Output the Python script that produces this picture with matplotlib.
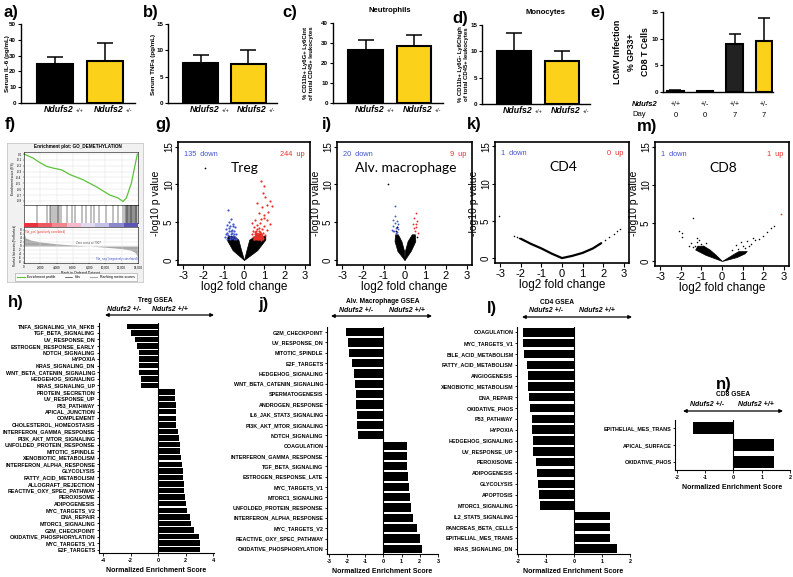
import matplotlib
matplotlib.use("Agg")
import matplotlib.pyplot as plt
from matplotlib.colors import ListedColormap
from matplotlib.lines import Line2D

plt.rcParams['font.family'] = ['Liberation Sans', 'DejaVu Sans']
plt.rcParams['axes.unicode_minus'] = False

W, H = 793, 577
GOLD = '#fbd219'
BLUE = '#3f55c8'
RED = '#e8302a'

# ---- top row: serum cytokines, blood cells, LCMV
il6_mean = [24.8, 26.4]
il6_err = [4.5, 11.8]
tnf_mean = [7.6, 7.4]
tnf_err = [1.6, 2.7]
neut_mean = [26.6, 28.3]
neut_err = [5.0, 5.8]
mono_mean = [10.1, 8.1]
mono_err = [3.3, 2.0]
lcmv_geno = ['+/+', '+/-', '+/+', '+/-']
lcmv_day = ['0', '0', '7', '7']
lcmv_mean = [0.2, 0.15, 9.0, 9.5]
lcmv_err = [0.12, 0.06, 1.8, 4.4]

# ---- GSEA enrichment plot (panel f)
es_rank = [0, 1140, 1750, 2780, 3590, 4610, 5630, 7270, 8900, 10530, 11550, 12160,
           12570, 13180, 13590, 13920]
es_score = [0.0, -0.07, -0.13, -0.21, -0.24, -0.27, -0.35, -0.44, -0.56, -0.70, -0.75,
            -0.81, -0.75, -0.50, -0.22, 0.0]
hit_ranks = [1560, 2860, 3240, 3370, 3580, 3790, 4000, 4210, 4340, 4550, 5260, 5900,
             6320, 7160, 7580, 8210, 8630, 9260, 10100, 10950, 11580, 12200, 12350,
             12500, 12600, 12700, 12800, 12900, 13000, 13100, 13200, 13300, 13400,
             13500, 13600, 13700, 13800, 13900]
metric_rank = [0, 200, 800, 2000, 4000, 6000, 7907, 10000, 12000, 13000, 13600, 13900, 14000]
metric_val = [6.5, 4.0, 3.0, 2.0, 1.1, 0.5, 0.0, -0.6, -1.3, -2.0, -3.0, -5.0, -8.0]
rank_bands = ['#e8323c', '#ee5a62', '#f2888d', '#f7b8cc', '#e0d8ee', '#c4c0e6',
              '#8c88cc', '#5a56b8']

# ---- volcano plots: dense core (band limits) + scattered genes
treg_core_y = [0, 1.3, 2.7, 3.2]
treg_left_out = [0, -0.56, -0.85, -0.8]
treg_left_in = [0, -0.14, -0.28, -0.5]
treg_right_in = [0, 0.12, 0.26, 0.55]
treg_right_out = [0, 0.65, 1.05, 1.05]
treg_up_core_y = [2.7, 3.1, 3.6]
treg_up_core_left = [0.45, 0.5, 0.6]
treg_up_core_right = [0.95, 0.92, 0.85]
treg_down_fc = [-0.80, -0.62, -0.75, -0.55, -0.85, -0.68, -0.45, -0.9, -0.6, -0.75, -0.5,
                -0.85, -0.65, -0.4, -0.78, -0.55, -0.92, -0.7, -0.45, -0.6, -0.82, -0.5,
                -0.38, -0.72, -0.58, -0.48, -0.88, -0.66, -0.52, -0.7]
treg_down_p = [6.6, 5.4, 5.0, 4.8, 4.6, 4.5, 4.3, 4.1, 4.0, 3.9, 3.8, 3.6, 3.5, 3.4, 3.3,
               3.2, 3.1, 3.0, 3.0, 2.9, 2.8, 2.75, 2.8, 4.2, 3.6, 3.5, 3.4, 3.8, 4.5, 2.75]
treg_up_fc = [0.82, 1.0, 0.92, 1.05, 1.3, 1.38, 1.12, 0.65, 0.88, 1.2, 0.73, 1.0, 0.97,
              0.56, 1.13, 0.85, 0.4, 0.8, 1.3, 0.62, 1.0, 0.5, 0.72, 0.9, 1.15, 0.45, 0.6,
              0.8, 0.95, 0.38, 0.55, 0.7, 0.88, 1.05, 0.45, 0.62, 0.78, 0.95, 0.5, 0.68,
              0.85, 0.58, 0.75, 0.65, 0.52, 0.83]
treg_up_p = [10.4, 9.8, 8.9, 8.3, 7.8, 7.1, 7.3, 7.5, 7.0, 6.4, 6.2, 6.0, 5.6, 5.3, 5.3,
             5.4, 4.9, 4.9, 4.7, 4.6, 4.5, 4.3, 4.2, 4.1, 4.0, 3.9, 3.8, 3.7, 3.6, 3.5,
             3.4, 3.3, 3.2, 3.3, 3.1, 3.0, 2.95, 2.9, 2.8, 2.75, 2.7, 3.55, 3.9, 4.05,
             3.65, 3.45]
treg_other_fc = [-1.94]
treg_other_p = [12.1]

mac_core_y = [0, 1.2, 2.5, 3.4]
mac_left_out = [0, -0.34, -0.48, -0.45]
mac_left_in = [0, -0.02, -0.15, -0.32]
mac_right_in = [0, 0.02, 0.15, 0.35]
mac_right_out = [0, 0.3, 0.52, 0.5]
mac_down_fc = [-0.45, -0.53, -0.34, -0.56, -0.4, -0.29, -0.5, -0.34, -0.61, -0.45,
               -0.38, -0.48, -0.42, -0.55, -0.31]
mac_down_p = [7.1, 5.3, 5.1, 4.5, 4.2, 4.7, 3.8, 3.7, 4.0, 5.8, 4.4, 4.9, 3.6, 3.9, 4.1]
mac_up_fc = [0.56, 0.47, 0.6, 0.4, 0.56, 0.5, 0.63, 0.44, 0.53]
mac_up_p = [6.2, 5.5, 5.1, 4.7, 4.3, 3.8, 3.6, 4.2, 4.8]
mac_other_fc = [-0.8, -0.42, -0.36, 0.58]
mac_other_p = [10.1, 3.9, 4.3, 3.1]

cd4_band_fc = [-2.0, -1.5, -1.0, -0.5, 0, 0.5, 1.0, 1.5, 1.9]
cd4_band_p = [2.6, 1.9, 1.3, 0.6, 0, 0.3, 0.7, 1.3, 2.0]
cd4_other_fc = [-3.05, -2.35, -2.2, -2.1, 2.1, 2.3, 2.5, 2.65, 2.8]
cd4_other_p = [5.6, 3.0, 2.85, 2.7, 2.4, 2.8, 3.2, 3.6, 3.9]

cd8_core_y = [0, 0.8, 1.5, 2.0]
cd8_left_out = [0, -0.8, -1.3, -1.2]
cd8_left_in = [0, -0.3, -0.6, -0.9]
cd8_right_core_y = [0, 0.5, 1.0, 1.3]
cd8_right_in = [0, 0.3, 0.6, 0.8]
cd8_right_out = [0, 0.7, 1.1, 1.2]
cd8_other_fc = [-1.2, -1.0, -1.3, -0.9, -1.1, -0.8, -1.4, -1.5, -1.92, -2.09, -1.92, -1.43,
                -1.6, -1.2, 0.5, 0.8, 1.0, 1.2, 1.1, 0.7, 1.4, 1.6, 1.8, 2.0, 2.2, 2.4, 2.5,
                1.5, 0.9, 1.3]
cd8_other_p = [2.5, 2.2, 2.0, 1.9, 2.7, 2.4, 1.8, 2.3, 3.2, 3.9, 3.7, 5.6, 1.9, 3.0, 1.4,
               1.6, 2.0, 2.6, 1.7, 2.1, 2.2, 2.7, 2.9, 3.3, 3.8, 4.3, 4.6, 3.0, 2.5, 1.9]
cd8_up_fc = [2.88]
cd8_up_p = [6.1]

# ---- GSEA hallmark bars
treg_sets = ['TNFA_SIGNALING_VIA_NFKB', 'TGF_BETA_SIGNALING', 'UV_RESPONSE_DN',
             'ESTROGEN_RESPONSE_EARLY', 'NOTCH_SIGNALING', 'HYPOXIA', 'KRAS_SIGNALING_DN',
             'WNT_BETA_CATENIN_SIGNALING', 'HEDGEHOG_SIGNALING', 'KRAS_SIGNALING_UP',
             'PROTEIN_SECRETION', 'UV_RESPONSE_UP', 'P53_PATHWAY', 'APICAL_JUNCTION',
             'COMPLEMENT', 'CHOLESTEROL_HOMEOSTASIS', 'INTERFERON_GAMMA_RESPONSE',
             'PI3K_AKT_MTOR_SIGNALING', 'UNFOLDED_PROTEIN_RESPONSE', 'MITOTIC_SPINDLE',
             'XENOBIOTIC_METABOLISM', 'INTERFERON_ALPHA_RESPONSE', 'GLYCOLYSIS',
             'FATTY_ACID_METABOLISM', 'ALLOGRAFT_REJECTION', 'REACTIVE_OXY_SPEC_PATHWAY',
             'PEROXISOME', 'ADIPOGENESIS', 'MYC_TARGETS_V2', 'DNA_REPAIR', 'MTORC1_SIGNALING',
             'G2M_CHECKPOINT', 'OXIDATIVE_PHOSPHORYLATION', 'MYC_TARGETS_V1', 'E2F_TARGETS']
treg_nes = [-2.28, -1.98, -1.65, -1.53, -1.41, -1.41, -1.39, -1.39, -1.27, -1.27,
            1.2, 1.25, 1.29, 1.29, 1.32, 1.32, 1.44, 1.48, 1.55, 1.6, 1.67, 1.72, 1.79,
            1.79, 1.84, 1.84, 1.95, 2.0, 2.07, 2.3, 2.35, 2.6, 2.96, 3.0, 3.05]

mac_sets = ['G2M_CHECKPOINT', 'UV_RESPONSE_DN', 'MITOTIC_SPINDLE', 'E2F_TARGETS',
            'HEDGEHOG_SIGNALING', 'WNT_BETA_CATENIN_SIGNALING', 'SPERMATOGENESIS',
            'ANDROGEN_RESPONSE', 'IL6_JAK_STAT3_SIGNALING', 'PI3K_AKT_MTOR_SIGNALING',
            'NOTCH_SIGNALING', 'COAGULATION', 'INTERFERON_GAMMA_RESPONSE',
            'TGF_BETA_SIGNALING', 'ESTROGEN_RESPONSE_LATE', 'MYC_TARGETS_V1',
            'MTORC1_SIGNALING', 'UNFOLDED_PROTEIN_RESPONSE', 'INTERFERON_ALPHA_RESPONSE',
            'MYC_TARGETS_V2', 'REACTIVE_OXY_SPEC_PATHWAY', 'OXIDATIVE_PHOSPHORYLATION']
mac_nes = [-2.05, -1.95, -1.9, -1.7, -1.62, -1.58, -1.5, -1.5, -1.45, -1.45, -1.4,
           1.28, 1.27, 1.32, 1.35, 1.4, 1.45, 1.5, 1.6, 1.85, 2.0, 2.1]

cd4_sets = ['COAGULATION', 'MYC_TARGETS_V1', 'BILE_ACID_METABOLISM', 'FATTY_ACID_METABOLISM',
            'ANGIOGENESIS', 'XENOBIOTIC_METABOLISM', 'DNA_REPAIR', 'OXIDATIVE_PHOS',
            'P53_PATHWAY', 'HYPOXIA', 'HEDGEHOG_SIGNALING', 'UV_RESPONSE_UP', 'PEROXISOME',
            'ADIPOGENESIS', 'GLYCOLYSIS', 'APOPTOSIS', 'MTORC1_SIGNALING',
            'IL2_STAT5_SIGNALING', 'PANCREAS_BETA_CELLS', 'EPITHELIAL_MES_TRANS',
            'KRAS_SIGNALING_DN']
cd4_nes = [-1.85, -1.82, -1.8, -1.7, -1.64, -1.64, -1.62, -1.58, -1.5, -1.5, -1.49,
           -1.46, -1.37, -1.35, -1.29, -1.26, -1.23, 1.27, 1.27, 1.27, 1.55]

cd8_sets = ['EPITHELIAL_MES_TRANS', 'APICAL_SURFACE', 'OXIDATIVE_PHOS']
cd8_nes = [-1.45, 1.45, 1.45]


fig = plt.figure(figsize=(W / 100, H / 100), dpi=100)


def px_axes(l, t, r, b, **kw):
    return fig.add_axes([l / W, 1 - b / H, (r - l) / W, (b - t) / H], **kw)


def ftext(x, y, s, **kw):
    return fig.text(x / W, 1 - y / H, s, **kw)


def bar_axes(ax, ylim, yticks):
    ax.set_ylim(*ylim)
    ax.set_yticks(yticks)
    ax.spines[['top', 'right']].set_visible(False)
    ax.spines[['left', 'bottom']].set_linewidth(1.0)
    ax.tick_params(axis='y', labelsize=4.5, length=2.5, width=0.8, pad=1)
    ax.tick_params(axis='x', length=0, labelbottom=False)
    for lab in ax.get_yticklabels():
        lab.set_fontweight('bold')


def two_bar_panel(ax, means, errs, ylim, yticks):
    x = [0, 1]
    ax.bar(x, means, width=0.72, color=['black', GOLD], edgecolor='black', linewidth=1.5, zorder=2)
    ax.errorbar(x, means, yerr=[[0, 0], errs], fmt='none', ecolor='black',
                elinewidth=1.1, capsize=6, capthick=1.1, zorder=1)
    ax.set_xlim(-0.68, 1.6)
    bar_axes(ax, ylim, yticks)
    for xi, g in zip(x, ['+/+', '+/-']):
        ax.annotate('Ndufs2', xy=(xi, 0), xycoords=('data', 'axes fraction'),
                    xytext=(13.5, -5), textcoords='offset points', ha='right', va='center',
                    fontsize=6.3, fontweight='bold', fontstyle='italic')
        ax.annotate(g, xy=(xi, 0), xycoords=('data', 'axes fraction'),
                    xytext=(15, -5.4), textcoords='offset points', ha='left', va='center',
                    fontsize=4)


# a) IL-6
ax = px_axes(21, 24, 135, 103)
two_bar_panel(ax, il6_mean, il6_err, (0, 50), [0, 10, 20, 30, 40, 50])
ftext(8, 64, 'Serum IL-6 (pg/mL)', rotation=90, ha='center', va='center', fontsize=4.5, fontweight='bold')

# b) TNF
ax = px_axes(168, 24, 277, 103)
two_bar_panel(ax, tnf_mean, tnf_err, (0, 15), [0, 5, 10, 15])
ftext(154, 64, 'Serum TNFa (pg/mL)', rotation=90, ha='center', va='center', fontsize=4.5, fontweight='bold')

# c) neutrophils
ax = px_axes(333, 23, 443, 103)
two_bar_panel(ax, neut_mean, neut_err, (0, 40), [0, 10, 20, 30, 40])
ftext(305, 63, '% CD11b+ Ly6G+ Ly6Cint', rotation=90, ha='center', va='center', fontsize=4.3, fontweight='bold')
ftext(312, 63, 'of total CD45+ leukocytes', rotation=90, ha='center', va='center', fontsize=4.3, fontweight='bold')
ftext(390, 10, 'Neutrophils', ha='center', va='center', fontsize=5.5, fontweight='bold')

# d) monocytes
ax = px_axes(482, 25, 590, 104)
two_bar_panel(ax, mono_mean, mono_err, (0, 15), [0, 5, 10, 15])
ftext(460, 64, '% CD11b+ Ly6G- Ly6Chigh', rotation=90, ha='center', va='center', fontsize=4.3, fontweight='bold')
ftext(467, 64, 'of total CD45+ leukocytes', rotation=90, ha='center', va='center', fontsize=4.3, fontweight='bold')
ftext(545, 12, 'Monocytes', ha='center', va='center', fontsize=5.5, fontweight='bold')

# e) LCMV
ax = px_axes(663, 12, 773, 92)
xe = [0, 1, 2, 3]
ax.bar(xe, lcmv_mean, width=0.55, color=['black', 'black', '#222222', GOLD],
       edgecolor='black', linewidth=1.5, zorder=2)
ax.errorbar(xe, lcmv_mean, yerr=[[0] * 4, lcmv_err], fmt='none', ecolor='black',
            elinewidth=1.1, capsize=4.5, capthick=1.1, zorder=1)
ax.set_xlim(-0.42, 3.3)
bar_axes(ax, (0, 15), [0, 5, 10, 15])
for xi, g, d in zip(xe, lcmv_geno, lcmv_day):
    ax.annotate(g, xy=(xi, 0), xycoords=('data', 'axes fraction'), xytext=(0, -9),
                textcoords='offset points', ha='center', va='center', fontsize=5)
    ax.annotate(d, xy=(xi, 0), xycoords=('data', 'axes fraction'), xytext=(0, -17),
                textcoords='offset points', ha='center', va='center', fontsize=5.5)
ftext(632, 104, 'Ndufs2', ha='left', va='center', fontsize=5.5, fontweight='bold', fontstyle='italic')
ftext(632, 115, 'Day', ha='left', va='center', fontsize=5.5)
ftext(617, 52, 'LCMV Infection', rotation=90, ha='center', va='center', fontsize=6.3, fontweight='bold')
ftext(631, 52, '% GP33+', rotation=90, ha='center', va='center', fontsize=6.3, fontweight='bold')
ftext(645, 52, 'CD8 T Cells', rotation=90, ha='center', va='center', fontsize=6.3, fontweight='bold')

# f) GSEA enrichment plot
bg = px_axes(7, 143, 143, 282)
bg.set_facecolor('#f1f1f1')
bg.set_xticks([])
bg.set_yticks([])
for s in bg.spines.values():
    s.set_color('#c8c8c8')
    s.set_linewidth(0.6)
ftext(78, 146.5, 'Enrichment plot: GO_DEMETHYLATION', ha='center', va='center', fontsize=3.3, fontweight='bold')

ax_es = px_axes(24, 152, 138, 205)
ax_es.plot(es_rank, es_score, color='#5cc23a', lw=0.9)
ax_es.set_xlim(0, 14000)
ax_es.set_ylim(-0.87, 0.035)
ax_es.set_yticks([0.0, -0.1, -0.2, -0.3, -0.4, -0.5, -0.6, -0.7, -0.8])
ax_es.set_yticklabels(['0.0', '-0.1', '-0.2', '-0.3', '-0.4', '-0.5', '-0.6', '-0.7', '-0.8'])
ax_es.set_xticks([0, 2000, 4000, 6000, 8000, 10000, 12000, 14000])
ax_es.grid(color='#dddddd', lw=0.3)
ax_es.tick_params(labelsize=2.2, length=1, width=0.3, pad=0.8, labelbottom=False)
ax_es.set_ylabel('Enrichment score (ES)', fontsize=2.3, labelpad=1)

ax_hit = px_axes(24, 205, 138, 223)
ax_hit.vlines(hit_ranks, 0, 1, color='black', lw=0.35)
ax_hit.set_xlim(0, 14000)
ax_hit.set_ylim(0, 1)
ax_hit.set_xticks([])
ax_hit.set_yticks([])

ax_band = px_axes(24, 223, 138, 227)
ax_band.imshow([list(range(len(rank_bands)))], cmap=ListedColormap(rank_bands),
               aspect='auto', extent=(0, 14000, 0, 1))
ax_band.set_xticks([])
ax_band.set_yticks([])
for s in ax_band.spines.values():
    s.set_visible(False)

ax_rk = px_axes(24, 227, 138, 263)
ax_rk.fill_between(metric_rank, 0, metric_val, color='#a8a8a8', lw=0)
ax_rk.set_xlim(0, 14000)
ax_rk.set_ylim(-8.5, 9.5)
ax_rk.set_yticks([-8, -6, -4, -2, 0, 2, 4, 6, 8])
ax_rk.set_xticks([0, 2000, 4000, 6000, 8000, 10000, 12000, 14000])
ax_rk.set_xticklabels(['0', '2,000', '4,000', '6,000', '8,000', '10,000', '12,000', '14,000'])
ax_rk.grid(color='#dddddd', lw=0.3)
ax_rk.tick_params(labelsize=2.2, length=1, width=0.3, pad=0.8)
ax_rk.set_xlabel('Rank in Ordered Dataset', fontsize=2.5, labelpad=0.8)
ax_rk.set_ylabel('Ranked list metric (PreRanked)', fontsize=2.1, labelpad=1)
ax_rk.text(7907, 0.9, 'Zero cross at 7907', fontsize=2.2, color='#555555', ha='center')
ax_rk.text(100, 7.2, "'Na_pos' (positively correlated)", fontsize=2.1, color=RED, ha='left', va='center')
ax_rk.text(13900, -6.6, "'Na_neg' (negatively correlated)", fontsize=2.1, color=BLUE, ha='right', va='center')
for a in (ax_es, ax_hit, ax_rk):
    for s in a.spines.values():
        s.set_linewidth(0.4)
handles = [Line2D([], [], color='#5cc23a', lw=0.8), Line2D([], [], color='black', lw=0.4),
           Line2D([], [], color='#a8a8a8', lw=0.8)]
fig.legend(handles, ['Enrichment profile', 'Hits', 'Ranking metric scores'],
           loc='center', bbox_to_anchor=(76 / W, 1 - 277 / H), ncol=3, fontsize=2.5,
           frameon=True, edgecolor='#888888', fancybox=False, handlelength=2.2,
           columnspacing=2.5, borderpad=0.5).get_frame().set_linewidth(0.4)


# volcano plots
def volcano_axes(ax, title, down_label, up_label):
    ax.set_xlim(-3.25, 3.25)
    ax.set_ylim(-0.66, 15.6)
    ax.set_xticks([-3, -2, -1, 0, 1, 2, 3])
    ax.set_yticks([0, 5, 10, 15])
    ax.tick_params(labelsize=8, length=3, width=0.8, pad=1.5)
    ax.tick_params(axis='y', labelsize=7, length=2.5, pad=0.5)
    for lab in ax.get_yticklabels():
        lab.set_rotation(90)
        lab.set_va('center')
    for s in ax.spines.values():
        s.set_linewidth(1.2)
    ax.text(-2.95, 14.0, down_label, color=BLUE, fontsize=5.3, ha='left', va='center')
    ax.text(3.0, 14.0, up_label, color=RED, fontsize=5.3, ha='right', va='center')
    ax.text(0.05, 12.2, title, fontsize=10, ha='center', va='center', family=['Lato', 'DejaVu Sans'])
    ax.set_xlabel('log2 fold change', fontsize=8.5, labelpad=0)


def volcano_ylabel(x):
    ftext(x, 203, '-log10 p value', rotation=90, ha='center', va='center', fontsize=7.5)


# g) Treg
ax = px_axes(178, 142, 310, 265)
ax.fill_betweenx(treg_core_y, treg_left_out, treg_left_in, color='black', lw=0.5)
ax.fill_betweenx(treg_core_y, treg_right_in, treg_right_out, color='black', lw=0.5)
ax.fill_betweenx(treg_up_core_y, treg_up_core_left, treg_up_core_right, color=RED, lw=0.5)
ax.scatter(treg_down_fc, treg_down_p, s=2.5, color=BLUE, lw=0)
ax.scatter(treg_up_fc, treg_up_p, s=2.5, color=RED, lw=0)
ax.scatter(treg_other_fc, treg_other_p, s=1.5, color='black', lw=0)
volcano_axes(ax, 'Treg', '135  down', '244  up')
volcano_ylabel(156)

# i) alveolar macrophage
ax = px_axes(337, 142, 472, 265)
ax.fill_betweenx(mac_core_y, mac_left_out, mac_left_in, color='black', lw=0.5)
ax.fill_betweenx(mac_core_y, mac_right_in, mac_right_out, color='black', lw=0.5)
ax.scatter(mac_down_fc, mac_down_p, s=1.8, color=BLUE, lw=0)
ax.scatter(mac_up_fc, mac_up_p, s=1.8, color=RED, lw=0)
ax.scatter(mac_other_fc, mac_other_p, s=1.5, color='black', lw=0)
volcano_axes(ax, 'Alv. macrophage', '20  down', '9  up')
volcano_ylabel(316)

# k) CD4
ax = px_axes(495, 142, 629, 263)
ax.plot(cd4_band_fc, cd4_band_p, color='black', lw=1.6, solid_capstyle='round')
ax.scatter(cd4_other_fc, cd4_other_p, s=1.2, color='black', lw=0)
volcano_axes(ax, 'CD4', '1  down', '0  up')
volcano_ylabel(474)

# m) CD8
ax = px_axes(655, 142, 789, 266)
ax.fill_betweenx(cd8_core_y, cd8_left_out, cd8_left_in, color='black', lw=0.5)
ax.fill_betweenx(cd8_right_core_y, cd8_right_in, cd8_right_out, color='black', lw=0.5)
ax.scatter(cd8_other_fc, cd8_other_p, s=1.2, color='black', lw=0)
ax.scatter(cd8_up_fc, cd8_up_p, s=1.5, color=RED, lw=0)
volcano_axes(ax, 'CD8', '1  down', '1  up')
volcano_ylabel(634)


# GSEA hallmark bar panels
def gsea_panel(ax, names, scores, xlim, xticks, bar_h, xlabel=True):
    y = list(range(len(names)))
    ax.barh(y, scores, height=bar_h, color='black')
    ax.set_ylim(len(names) - 0.5, -0.5)
    ax.set_yticks(y)
    ax.set_yticklabels(names, fontsize=3.9, fontweight='bold')
    ax.set_xlim(*xlim)
    ax.set_xticks(xticks)
    ax.axvline(0, color='black', lw=0.8)
    ax.spines[['top', 'right']].set_visible(False)
    ax.spines[['left', 'bottom']].set_linewidth(0.8)
    ax.tick_params(axis='y', length=1.8, width=0.6, pad=0.8)
    ax.tick_params(axis='x', length=2, width=0.6, labelsize=4, pad=1.5)
    for lab in ax.get_xticklabels():
        lab.set_fontweight('bold')
    ax.set_xlabel('Normalized Enrichment Score', fontsize=5, fontweight='bold', labelpad=3)


def gsea_header(title, tx, ty, lx, rx, text_y, ax0, ax1, arrow_y):
    ftext(tx, ty, title, ha='center', va='center', fontsize=4.8, fontweight='bold')
    ftext(lx, text_y, 'Ndufs2 +/-', ha='center', va='center', fontsize=5, fontweight='bold', fontstyle='italic')
    ftext(rx, text_y, 'Ndufs2 +/+', ha='center', va='center', fontsize=5, fontweight='bold', fontstyle='italic')
    fig.add_artist(plt.Annotation('', xy=(ax1 / W, 1 - arrow_y / H), xytext=(ax0 / W, 1 - arrow_y / H),
                                  xycoords='figure fraction',
                                  arrowprops=dict(arrowstyle='<|-|>', lw=0.9, color='black',
                                                  mutation_scale=5, shrinkA=0, shrinkB=0)))


# h) Treg
ax = px_axes(99, 323, 214, 553)
gsea_panel(ax, treg_sets, treg_nes, (-4.3, 4.05), [-4, -2, 0, 2, 4], 0.82)
gsea_header('Treg GSEA', 155, 300.5, 124, 170, 309.5, 105, 214, 315)

# j) alveolar macrophage
ax = px_axes(327, 327, 438, 554)
gsea_panel(ax, mac_sets, mac_nes, (-3.1, 3.0), [-3, -2, -1, 0, 1, 2, 3], 0.8)
gsea_header('Alv. Macrophage GSEA', 383, 301.5, 356, 407, 310, 331, 432, 316)

# l) CD4
ax = px_axes(517, 327, 630, 554)
gsea_panel(ax, cd4_sets, cd4_nes, (-2.05, 2.0), [-2, -1, 0, 1, 2], 0.78)
gsea_header('CD4 GSEA', 557, 302, 546, 597, 311, 522, 632, 317)

# n) CD8
ax = px_axes(675, 420, 790, 470)
gsea_panel(ax, cd8_sets, cd8_nes, (-2.07, 2.0), [-2, -1, 0, 1, 2], 0.72)
gsea_header('CD8 GSEA', 733, 395, 707, 756, 404, 683, 783, 411)

# panel letters
for letter, x, y in [('a)', 3, 13), ('b)', 143, 13), ('c)', 282, 13), ('d)', 452, 18),
                     ('e)', 590, 13), ('f)', 5, 125), ('g)', 155, 125), ('i)', 322, 125),
                     ('k)', 467, 125), ('m)', 637, 127), ('h)', 8, 303), ('j)', 258, 305),
                     ('l)', 487, 308), ('n)', 716, 385)]:
    ftext(x, y, letter, ha='left', va='center', fontsize=12, fontweight='bold')

fig.savefig('out.png', dpi=100)
